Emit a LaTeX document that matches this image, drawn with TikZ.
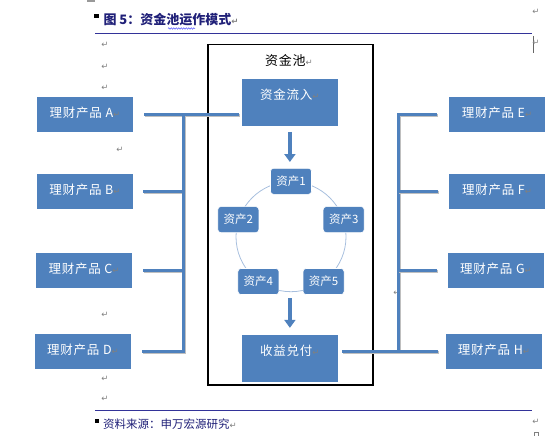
\documentclass[tikz,border=0pt]{standalone}
\usepackage{xcolor}
\usepackage{tikz}
\usepackage{fontspec}
\setmainfont{Noto Sans CJK SC}
\newfontfamily\boxfont[LetterSpace=6]{Noto Sans CJK SC}
\newfontfamily\symfont{DejaVu Sans}
\usetikzlibrary{arrows.meta,decorations.pathmorphing}

\definecolor{boxblue}{RGB}{79,129,189}
\definecolor{ringblue}{RGB}{167,191,222}
\definecolor{navy}{RGB}{32,32,120}
\definecolor{rulenavy}{RGB}{51,51,153}
\definecolor{markgray}{RGB}{128,128,128}
\newcommand{\retmark}{{\symfont\fontsize{8.5}{9}\selectfont\textcolor{markgray}{↵}}}

\begin{document}
\begin{tikzpicture}[x=1pt,y=-1pt,
    product/.style={fill=boxblue,text=white,inner sep=0,minimum width=96,text height=20.8pt,text depth=14.5pt,font=\boxfont\fontsize{12.5}{14}\selectfont},
    flowbox/.style={fill=boxblue,text=white,inner sep=0,minimum width=96,text height=20pt,text depth=26.5pt,font=\boxfont\fontsize{12.5}{14}\selectfont},
    asset/.style={fill=boxblue,draw=white,line width=0.6pt,rounded corners=3pt,text=white,inner sep=0,minimum width=41,minimum height=26,font=\fontsize{11.5}{13}\selectfont},
    conn/.style={draw=boxblue,line width=3pt,preaction={draw=black!25,line width=3pt,transform canvas={shift={(0.8pt,-1.2pt)}}}},
    flowarrow/.style={draw=boxblue,line width=4.5pt,-{Triangle[width=11pt,length=8pt]}},
    retnode/.style={inner sep=0}]
    \useasboundingbox (0,0) rectangle (554,436);

    % page marks
    \fill[black!40] (87,0) rectangle (95,2);
    \draw[black!60,line width=0.7pt] (533.3,36) -- (533.3,53.3);
    \draw[black!50,line width=0.5pt] (534,432) rectangle (538.5,436.5);
    \foreach \x/\y [count=\n] in {105/45,105/67,105/88,120/150,105/315,105/379,105/399,536/12,536/43,536/421.7,397/293}
        \node[retnode] (ret\n) at (\x,\y) {\retmark};

    % caption and source
    \node[fill=black,inner sep=0,minimum size=4.5] (titlebullet) at (96.7,15.8) {};
    \node[anchor=base west,inner sep=0,text=navy,font=\fontsize{13}{15}\selectfont\bfseries] (title) at (103.3,25) {图 5：资金池运作模式\retmark};
    \draw[blue!70,line width=0.5pt,decorate,decoration={snake,amplitude=0.7pt,segment length=2.5pt}] (168,28.5) -- (195,28.5);
    \draw[rulenavy,line width=1pt] (95,33.5) -- (531.7,33.5);
    \draw[rulenavy,line width=1pt] (95,410.5) -- (531.7,410.5);
    \node[fill=black,inner sep=0,minimum size=4] (srcbullet) at (97,420.5) {};
    \node[anchor=base west,inner sep=0,text=navy,font=\fontsize{11.5}{13}\selectfont] (source) at (103,428.7) {资料来源：申万宏源研究\retmark};

    % pool
    \node[draw,line width=1.7pt,minimum width=165,minimum height=340.4,inner sep=0] (poolframe) at (290.8,214.8) {};
    \node[inner sep=0,font=\boxfont\fontsize{13}{15}\selectfont] (pooltitle) at (289,61) {资金池\retmark};
    \node[flowbox] (inflow) at (289.9,102.5) {资金流入\retmark};
    \node[flowbox] (outflow) at (289.9,358.3) {收益兑付\retmark};
    \node[draw=ringblue,line width=0.8pt,circle,inner sep=0,minimum size=110] (pool) at (291,236.7) {};
    \foreach \i/\ang in {1/90,2/162,3/18,4/234,5/306}
        \node[asset] (a\i) at (pool.\ang) {资产\i};
    \draw[flowarrow,shorten <=6pt,shorten >=6pt] (inflow.south) -- (inflow.south |- a1.north);
    \draw[flowarrow,shorten <=6pt,shorten >=7pt] (outflow.north |- pool.south) -- (outflow.north);

    % products
    \node[product] (A) at (85,114.4) {理财产品 A\retmark};
    \node[product] (B) at (85,191.3) {理财产品 B\retmark};
    \node[product] (C) at (84,270.5) {理财产品 C\retmark};
    \node[product] (D) at (83,351.5) {理财产品 D\retmark};
    \node[product] (E) at (497,114.4) {理财产品 E\retmark};
    \node[product] (F) at (497,191.3) {理财产品 F\retmark};
    \node[product] (G) at (496,270.5) {理财产品 G\retmark};
    \node[product] (H) at (494,351.5) {理财产品 H\retmark};

    % connectors
    \coordinate (ltrunk) at (183.3,0);
    \coordinate (rtrunk) at (398.4,0);
    \draw[conn,shorten <=11pt,shorten >=3pt] (A.east) -- (A.east -| inflow.west);
    \draw[conn,shorten <=10pt] (B.east) -- (B.east -| ltrunk);
    \draw[conn,shorten <=11pt] (C.east) -- (C.east -| ltrunk);
    \draw[conn] (A.east -| ltrunk) -- (D.east -| ltrunk) -- ([xshift=11pt]D.east);
    \draw[conn] ([xshift=-11.5pt]E.west) -- (E.west -| rtrunk) -- (H.west -| rtrunk);
    \draw[conn,shorten <=11pt] (F.west) -- (F.west -| rtrunk);
    \draw[conn,shorten <=11pt] (G.west) -- (G.west -| rtrunk);
    \draw[conn,shorten <=4pt,shorten >=8pt] (outflow.east |- H.west) -- (H.west);
\end{tikzpicture}
\end{document}
